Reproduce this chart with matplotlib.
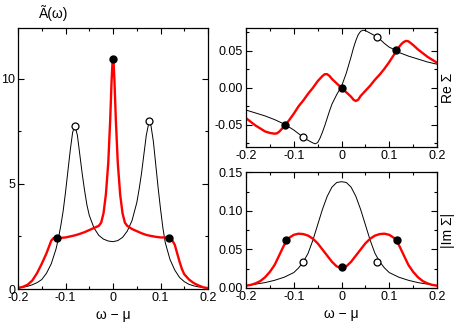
import matplotlib
matplotlib.use("Agg")
import matplotlib.pyplot as plt
from matplotlib.ticker import MultipleLocator, FixedLocator, FixedFormatter

plt.rcParams['font.family'] = ['Liberation Sans', 'DejaVu Sans']
plt.rcParams['axes.unicode_minus'] = False

# --- spectral function A(w) ---
a_black_x = [-0.2, -0.19, -0.18, -0.17, -0.16, -0.15, -0.14, -0.13, -0.12, -0.115, -0.11,
             -0.105, -0.10, -0.095, -0.09, -0.085, -0.08, -0.075, -0.07, -0.065, -0.06,
             -0.055, -0.05, -0.04, -0.03, -0.02, -0.01, 0.0, 0.01, 0.02, 0.03, 0.04, 0.05,
             0.055, 0.06, 0.065, 0.07, 0.076, 0.08, 0.085, 0.09, 0.095, 0.10, 0.105, 0.11,
             0.12, 0.13, 0.14, 0.15, 0.16, 0.17, 0.18, 0.19, 0.2]
a_black_y = [0.05, 0.08, 0.13, 0.2, 0.3, 0.45, 0.75, 1.2, 1.9, 2.4, 3.0,
             3.7, 4.6, 5.6, 6.6, 7.45, 7.75, 7.3, 6.4, 5.5, 4.7,
             4.0, 3.5, 2.9, 2.55, 2.37, 2.28, 2.25, 2.3, 2.45, 2.75, 3.25, 4.1,
             4.75, 5.5, 6.4, 7.3, 7.97, 7.75, 7.0, 5.9, 4.8, 3.8, 2.9, 2.2,
             1.4, 0.9, 0.55, 0.35, 0.22, 0.15, 0.1, 0.07, 0.05]

a_red_x = [-0.2, -0.19, -0.18, -0.17, -0.16, -0.15, -0.14, -0.135, -0.13, -0.125, -0.12,
           -0.11, -0.10, -0.09, -0.08, -0.07, -0.06, -0.05, -0.04, -0.03, -0.025, -0.02,
           -0.015, -0.01, -0.006, -0.003, -0.001, 0.0, 0.001, 0.003, 0.006, 0.01, 0.015, 0.02, 0.025,
           0.03, 0.04, 0.05, 0.06, 0.07, 0.08, 0.09, 0.10, 0.11, 0.12, 0.125, 0.13,
           0.135, 0.14, 0.145, 0.15, 0.16, 0.17, 0.18, 0.19, 0.2]
a_red_y = [0.05, 0.1, 0.2, 0.4, 0.75, 1.2, 1.7, 2.0, 2.3, 2.42, 2.43,
           2.43, 2.45, 2.5, 2.55, 2.62, 2.7, 2.8, 2.9, 3.0, 3.15, 3.6,
           4.5, 6.0, 8.0, 9.9, 10.85, 11.0, 10.85, 9.9, 8.0, 6.0, 4.5, 3.6, 3.15,
           3.0, 2.85, 2.75, 2.65, 2.57, 2.52, 2.48, 2.45, 2.45, 2.42, 2.3, 2.1,
           1.7, 1.3, 0.95, 0.7, 0.45, 0.28, 0.17, 0.08, 0.04]

a_full_x = [-0.118, 0.0, 0.117]
a_full_y = [2.43, 10.93, 2.43]
a_open_x = [-0.08, 0.076]
a_open_y = [7.75, 7.97]

# --- Re Sigma ---
re_black_x = [-0.2, -0.18, -0.16, -0.14, -0.12, -0.10, -0.09, -0.08, -0.07, -0.06,
              -0.055, -0.05, -0.045, -0.04, -0.035, -0.03, -0.025, -0.02, -0.01, 0.0,
              0.01, 0.02, 0.025, 0.03, 0.035, 0.04, 0.045, 0.05, 0.06, 0.07, 0.075,
              0.08, 0.09, 0.10, 0.11, 0.12, 0.14, 0.16, 0.18, 0.2]
re_black_y = [-0.030, -0.034, -0.038, -0.043, -0.049, -0.057, -0.062, -0.067, -0.071, -0.0745,
              -0.0757, -0.074, -0.068, -0.060, -0.051, -0.041, -0.031, -0.022, -0.009, 0.002,
              0.020, 0.042, 0.054, 0.064, 0.072, 0.0765, 0.078, 0.0775, 0.074, 0.0705, 0.069,
              0.066, 0.060, 0.055, 0.052, 0.048, 0.043, 0.039, 0.035, 0.032]

re_red_x = [-0.2, -0.19, -0.18, -0.17, -0.16, -0.15, -0.14, -0.135, -0.13, -0.125, -0.12,
            -0.11, -0.10, -0.09, -0.08, -0.07, -0.06, -0.05, -0.04, -0.035, -0.03, -0.025,
            -0.02, -0.01, 0.0, 0.01, 0.02, 0.025, 0.03, 0.035, 0.04, 0.05, 0.06, 0.07,
            0.08, 0.09, 0.10, 0.11, 0.115, 0.12, 0.125, 0.13, 0.135, 0.14, 0.15, 0.16,
            0.17, 0.18, 0.19, 0.2]
re_red_y = [-0.041, -0.046, -0.051, -0.055, -0.059, -0.061, -0.062, -0.0615, -0.059, -0.0555, -0.052,
            -0.044, -0.035, -0.025, -0.017, -0.008, 0.000, 0.009, 0.016, 0.0185, 0.0185, 0.016,
            0.012, 0.006, 0.0, -0.006, -0.012, -0.016, -0.0178, -0.016, -0.011, -0.004, 0.003, 0.011,
            0.018, 0.026, 0.035, 0.045, 0.050, 0.055, 0.059, 0.062, 0.0635, 0.063, 0.058, 0.052,
            0.047, 0.042, 0.038, 0.034]

re_full_x = [-0.118, 0.0, 0.115]
re_full_y = [-0.050, 0.0, 0.051]
re_open_x = [-0.08, 0.074]
re_open_y = [-0.067, 0.069]

# --- |Im Sigma| ---
im_black_x = [-0.2, -0.18, -0.16, -0.14, -0.12, -0.10, -0.09, -0.08, -0.07, -0.06, -0.05,
              -0.04, -0.03, -0.02, -0.01, 0.0, 0.01, 0.02, 0.03, 0.04, 0.05, 0.06, 0.07,
              0.08, 0.09, 0.10, 0.12, 0.14, 0.16, 0.18, 0.2]
im_black_y = [0.003, 0.005, 0.007, 0.010, 0.014, 0.020, 0.026, 0.034, 0.045, 0.062, 0.082,
              0.102, 0.119, 0.131, 0.137, 0.138, 0.137, 0.131, 0.119, 0.102, 0.082, 0.062, 0.045,
              0.034, 0.026, 0.020, 0.014, 0.010, 0.007, 0.005, 0.003]

im_red_x = [-0.2, -0.19, -0.18, -0.17, -0.16, -0.15, -0.14, -0.13, -0.12, -0.11, -0.10,
            -0.09, -0.08, -0.07, -0.06, -0.05, -0.04, -0.03, -0.02, -0.01, 0.0, 0.01, 0.02,
            0.03, 0.04, 0.05, 0.06, 0.07, 0.08, 0.09, 0.10, 0.11, 0.12, 0.13, 0.14, 0.15,
            0.16, 0.17, 0.18, 0.19, 0.2]
im_red_y = [0.003, 0.004, 0.006, 0.009, 0.014, 0.021, 0.030, 0.043, 0.056, 0.065, 0.069,
            0.0705, 0.070, 0.068, 0.064, 0.058, 0.050, 0.042, 0.034, 0.028, 0.026, 0.028, 0.034,
            0.042, 0.050, 0.058, 0.064, 0.068, 0.070, 0.0705, 0.069, 0.065, 0.056, 0.043, 0.030, 0.021,
            0.014, 0.009, 0.006, 0.004, 0.003]

im_full_x = [-0.117, 0.0, 0.117]
im_full_y = [0.062, 0.027, 0.062]
im_open_x = [-0.08, 0.074]
im_open_y = [0.034, 0.034]

x_ticks = [-0.2, -0.1, 0.0, 0.1, 0.2]
x_ticklabels = ['-0.2', '-0.1', '0', '0.1', '0.2']


def style(ax, ylim, ymaj, ymin):
    ax.set_xlim(-0.2, 0.2)
    ax.set_ylim(*ylim)
    ax.xaxis.set_major_locator(FixedLocator(x_ticks))
    ax.xaxis.set_major_formatter(FixedFormatter(x_ticklabels))
    ax.xaxis.set_minor_locator(MultipleLocator(0.05))
    ax.yaxis.set_major_locator(MultipleLocator(ymaj))
    ax.yaxis.set_minor_locator(MultipleLocator(ymin))
    ax.tick_params(which='both', direction='in', top=True, right=True,
                   labelsize=9, width=0.8, pad=2)
    ax.tick_params(which='major', length=4)
    ax.tick_params(which='minor', length=2)
    for s in ax.spines.values():
        s.set_linewidth(0.9)


def draw(ax, bx, by, rx, ry, fx, fy, ox, oy):
    ax.plot(bx, by, color='black', lw=0.7)
    ax.plot(rx, ry, color='red', lw=1.7)
    ax.plot(ox, oy, 'o', ms=5, mfc='white', mec='black', mew=0.9, zorder=5)
    ax.plot(fx, fy, 'o', ms=5, color='black', zorder=6)


fig = plt.figure(figsize=(4.56, 3.27), dpi=100)

ax1 = fig.add_axes([0.0395, 0.1162, 0.4167, 0.798])
draw(ax1, a_black_x, a_black_y, a_red_x, a_red_y, a_full_x, a_full_y, a_open_x, a_open_y)
style(ax1, (0, 12.4), 5, 2.5)
ax1.set_xlabel('ω − μ', fontsize=10, labelpad=3)
fig.text(0.085, 0.96, 'Ã(ω)', fontsize=10, ha='left', va='center')

ax2 = fig.add_axes([0.5395, 0.5505, 0.4189, 0.3639])
draw(ax2, re_black_x, re_black_y, re_red_x, re_red_y, re_full_x, re_full_y, re_open_x, re_open_y)
style(ax2, (-0.08, 0.081), 0.05, 0.025)
ax2.yaxis.set_major_formatter(plt.FormatStrFormatter('%.2f'))
ax2.yaxis.set_label_position('right')
ax2.set_ylabel('Re Σ', fontsize=10, labelpad=3)

ax3 = fig.add_axes([0.5395, 0.1193, 0.4189, 0.3547])
draw(ax3, im_black_x, im_black_y, im_red_x, im_red_y, im_full_x, im_full_y, im_open_x, im_open_y)
style(ax3, (0, 0.1506), 0.05, 0.025)
ax3.yaxis.set_major_formatter(plt.FormatStrFormatter('%.2f'))
ax3.yaxis.set_label_position('right')
ax3.set_ylabel('|Im Σ|', fontsize=10, labelpad=3)
ax3.set_xlabel('ω − μ', fontsize=10, labelpad=3)

fig.savefig('out.png', dpi=100)
